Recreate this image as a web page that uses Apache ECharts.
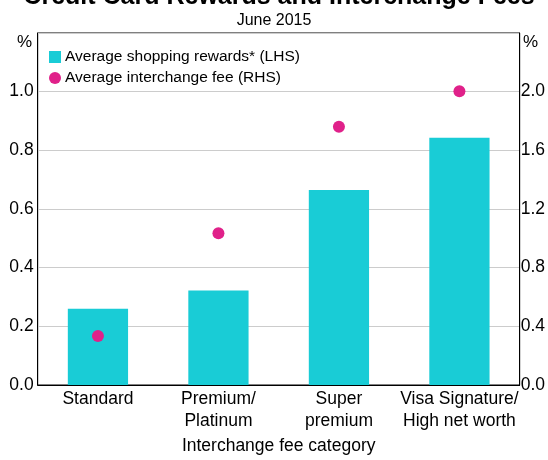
<!DOCTYPE html>
<html><head><meta charset="utf-8">
<script src="https://cdn.jsdelivr.net/npm/echarts@6/dist/echarts.min.js"></script>
<style>html,body{margin:0;padding:0;background:#fff}#c{width:548px;height:460px}</style>
</head><body><div id="c"></div>
<script>
var categories = ['Standard', 'Premium/\nPlatinum', 'Super\npremium', 'Visa Signature/\nHigh net worth'];
var rewards = [0.26, 0.322, 0.665, 0.843];
var interchange = [0.334, 1.034, 1.76, 2.003];
var leftTicks = [0, 0.2, 0.4, 0.6, 0.8, 1.0, 1.2];
var rightTicks = [0, 0.4, 0.8, 1.2, 1.6, 2.0, 2.4];

var FONT = 'Liberation Sans, Arial, sans-serif';
var chart = echarts.init(document.getElementById('c'), null, {renderer: 'canvas'});
chart.setOption({
  animation: false,
  textStyle: {fontFamily: FONT, color: '#000'},
  graphic: [
    {type: 'text', x: 279, y: -15.5, style: {text: 'Credit Card Rewards and Interchange Fees', textAlign: 'center', font: 'bold 25px ' + FONT, fill: '#000'}},
    {type: 'text', left: 'center', top: 13, style: {text: 'June 2015', font: '16px ' + FONT, fill: '#000'}},
    {type: 'text', left: 17, top: 34, style: {text: '%', font: '17px ' + FONT, fill: '#000'}},
    {type: 'text', left: 523, top: 34, style: {text: '%', font: '17px ' + FONT, fill: '#000'}}
  ],
  legend: {
    orient: 'vertical', left: 44, top: 44, itemWidth: 12, itemHeight: 12, itemGap: 5,
    textStyle: {fontSize: 15.5, fontFamily: FONT, color: '#000', padding: [0, 0, 0, -1]},
    data: [{name: 'Average shopping rewards* (LHS)', icon: 'rect'}, {name: 'Average interchange fee (RHS)', icon: 'circle'}]
  },
  grid: {left: 37.7, right: 26.3, top: 33, bottom: 70.3, show: true, borderColor: '#000', borderWidth: 1, backgroundColor: 'transparent'},
  xAxis: {
    type: 'category', data: categories, boundaryGap: true,
    name: 'Interchange fee category', nameLocation: 'middle', nameGap: 52,
    nameTextStyle: {fontSize: 17.5, fontFamily: FONT, color: '#000'},
    axisLine: {lineStyle: {color: '#000'}},
    axisTick: {inside: true, length: 6, lineStyle: {color: '#000'}},
    axisLabel: {interval: 0, fontSize: 17.5, fontFamily: FONT, color: '#000', lineHeight: 22, margin: 3}
  },
  yAxis: [
    {type: 'value', min: leftTicks[0], max: leftTicks[leftTicks.length - 1], interval: 0.2,
     axisLine: {show: true, lineStyle: {color: '#000'}}, axisTick: {show: false},
     splitLine: {lineStyle: {color: '#cccccc', width: 1}},
     axisLabel: {fontSize: 17.5, fontFamily: FONT, color: '#000', margin: 4,
       formatter: function (v) { return v >= 1.19 ? '' : v.toFixed(1); }}},
    {type: 'value', position: 'right', min: rightTicks[0], max: rightTicks[rightTicks.length - 1], interval: 0.4,
     axisLine: {show: true, lineStyle: {color: '#000'}}, axisTick: {show: false},
     splitLine: {show: false},
     axisLabel: {fontSize: 17.5, fontFamily: FONT, color: '#000', margin: 1,
       formatter: function (v) { return v >= 2.39 ? '' : v.toFixed(1); }}}
  ],
  series: [
    {name: 'Average shopping rewards* (LHS)', type: 'bar', yAxisIndex: 0, data: rewards, barWidth: '50%',
     itemStyle: {color: '#19ccd6'}},
    {name: 'Average interchange fee (RHS)', type: 'scatter', yAxisIndex: 1, data: interchange, symbol: 'circle', symbolSize: 12,
     itemStyle: {color: '#e0218a', opacity: 1}, z: 5}
  ]
});
</script></body></html>
